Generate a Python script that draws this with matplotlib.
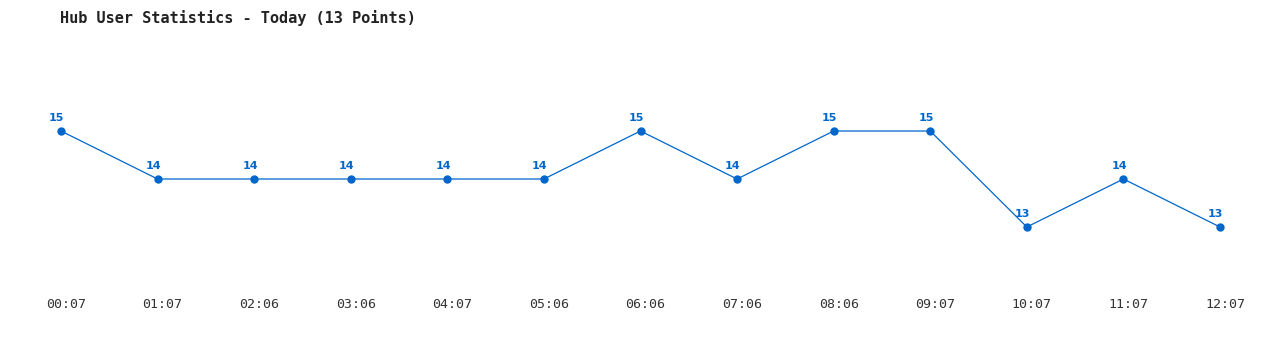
import matplotlib
matplotlib.use('Agg')
import matplotlib.pyplot as plt
import matplotlib.transforms as mtrans

# data
times = ['00:07', '01:07', '02:06', '03:06', '04:07', '05:06', '06:06',
         '07:06', '08:06', '09:07', '10:07', '11:07', '12:07']
users = [15, 14, 14, 14, 14, 14, 15, 14, 15, 15, 13, 14, 13]
title = 'Hub User Statistics - Today (13 Points)'

blue = '#0066cc'
W, H = 1280, 350

fig = plt.figure(figsize=(W/100., H/100.), dpi=100)
fig.patch.set_facecolor('white')
# axes box placed so the points land where they are in the picture
ax = fig.add_axes([61./W, (H-227.)/H, (1220.-61.)/W, 96./H])
x = list(range(len(users)))
ax.plot(x, users, color=blue, lw=0.9, marker='o', markersize=5,
        markerfacecolor=blue, markeredgecolor=blue, clip_on=False)
for xi, yi in zip(x, users):
    ax.annotate(str(yi), (xi, yi), xytext=(-3, 6), textcoords='offset points',
                ha='center', va='bottom', color=blue, fontsize=8,
                fontweight='bold', family='DejaVu Sans')

ax.set_xlim(0, len(users)-1)
ax.set_ylim(13, 15)
ax.set_xticks(x)
ax.set_xticklabels(times, family='DejaVu Sans Mono', fontsize=9.5, color='#333333')
ax.tick_params(axis='x', length=0, pad=51)
# labels sit a few pixels right of the points in the original
shift = mtrans.ScaledTranslation(5/100., 0, fig.dpi_scale_trans)
for lab in ax.get_xticklabels():
    lab.set_transform(lab.get_transform() + shift)
ax.set_yticks([])
for s in ax.spines.values():
    s.set_visible(False)

fig.text(60./W, 1-18./H, title, family='DejaVu Sans Mono', fontsize=11,
         fontweight='bold', color='#222222', ha='left', va='center')

fig.savefig('out.png', dpi=100, facecolor='white')
